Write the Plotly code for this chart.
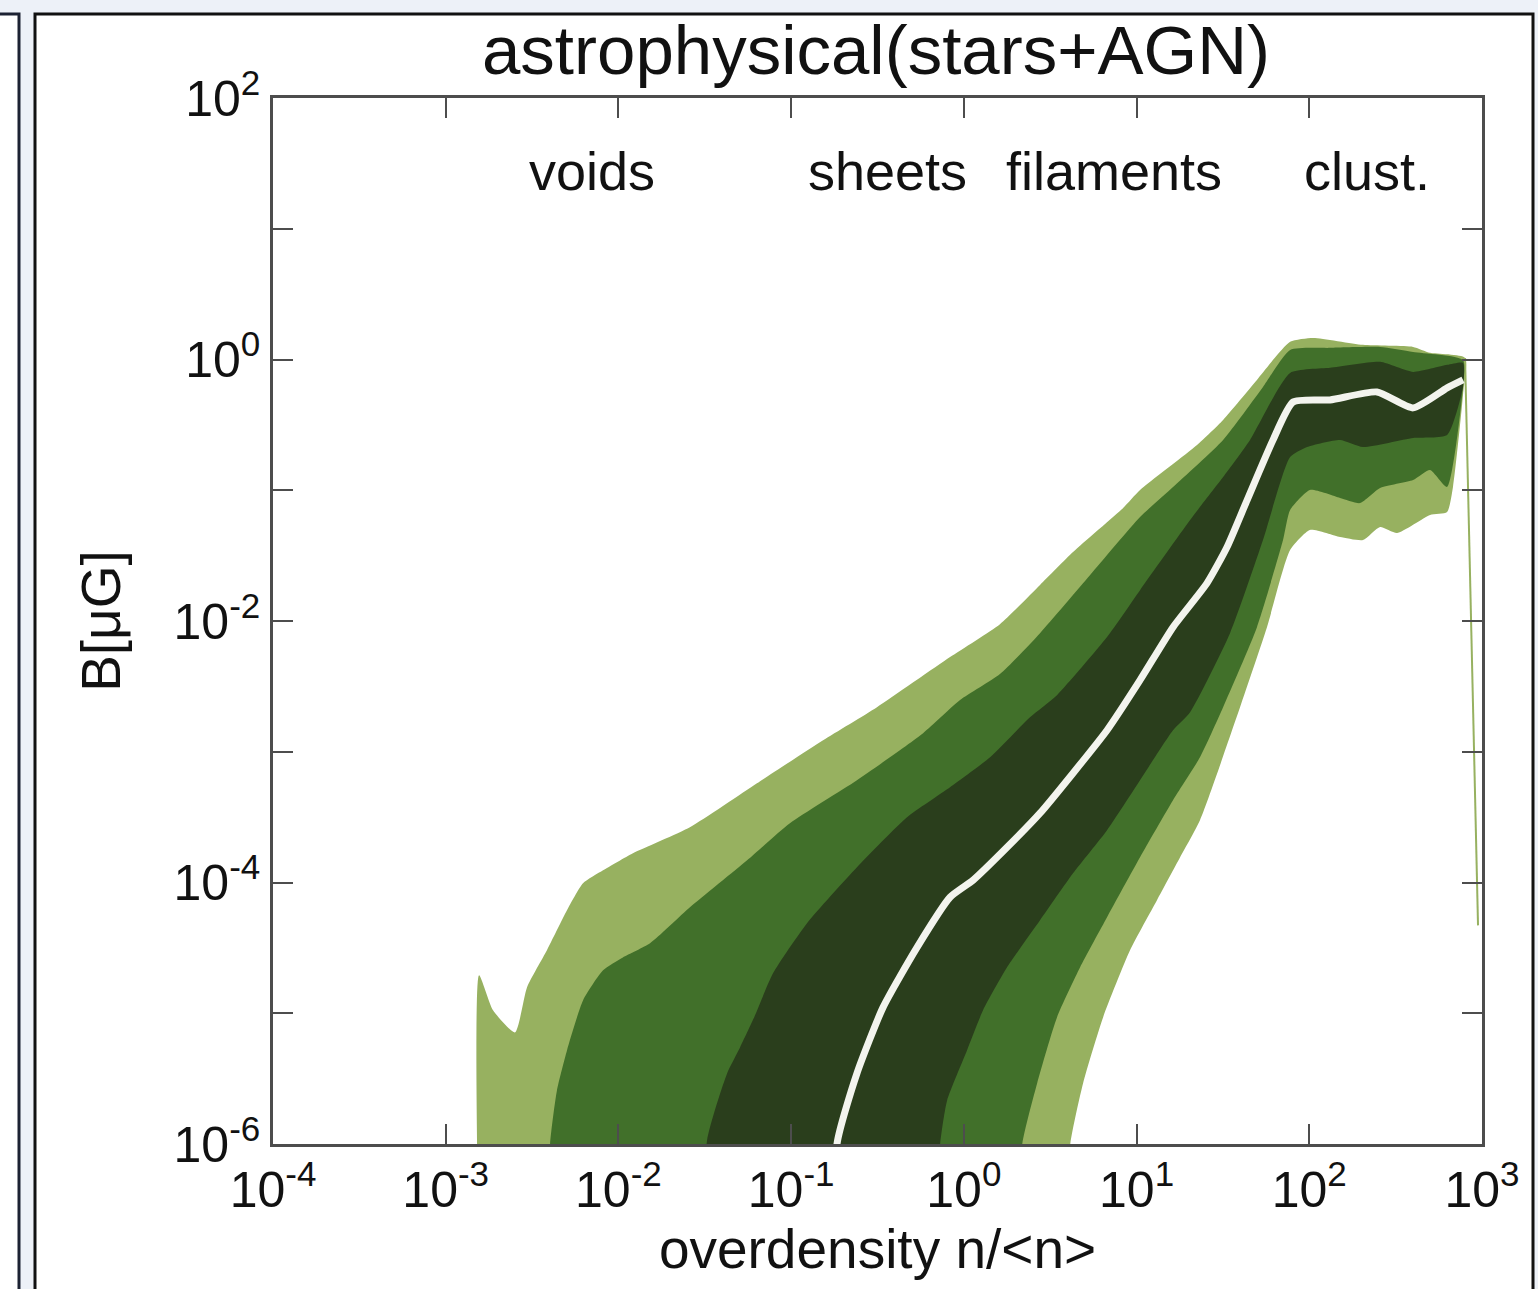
import plotly.graph_objects as go

# Magnetic field vs. overdensity: nested percentile bands and median,
# all stored as log10(n/<n>) and log10(B / muG).

# outer band (light green)
outer_up_logn = [-2.807, -2.807, -2.726, -2.599, -2.529, -2.414, -2.298, -2.205, -2.089, -1.916,
                 -1.586, -1.198, -0.815, -0.503, -0.080, 0.209, 0.441, 0.632, 0.922, 1.020,
                 1.350, 1.501, 1.697, 1.889, 2.022, 2.311, 2.601, 2.699, 2.902]
outer_up_logb = [-7.0, -4.710, -4.978, -5.147, -4.802, -4.519, -4.213, -4.006, -3.907, -3.776,
                 -3.577, -3.241, -2.912, -2.659, -2.276, -2.024, -1.725, -1.473, -1.136, -0.998,
                 -0.654, -0.462, -0.156, 0.135, 0.165, 0.112, 0.096, 0.051, 0.012]
outer_lo_logn = [0.580, 0.615, 0.690, 0.806, 0.962, 1.118, 1.252, 1.367, 1.599, 1.755,
                 1.889, 2.004, 2.178, 2.311, 2.410, 2.508, 2.699, 2.798, 2.832, 2.890, 2.977]
outer_lo_logb = [-7.0, -6.011, -5.537, -5.032, -4.519, -4.136, -3.807, -3.524, -2.659, -2.047,
                 -1.457, -1.304, -1.358, -1.381, -1.281, -1.327, -1.189, -1.166, -0.975, -0.271, -4.328]

# middle band (medium green)
mid_up_logn = [-2.408, -2.396, -2.356, -2.298, -2.205, -2.089, -1.974, -1.817, -1.586, -1.255,
               -1.007, -0.619, -0.236, -0.022, 0.209, 0.441, 0.731, 1.020, 1.211, 1.501,
               1.732, 1.889, 2.120, 2.410, 2.601, 2.890]
mid_up_logb = [-7.0, -6.004, -5.591, -5.284, -4.902, -4.672, -4.573, -4.465, -4.190, -3.830,
               -3.547, -3.218, -2.858, -2.605, -2.406, -2.093, -1.649, -1.205, -0.975, -0.615,
               -0.210, 0.073, 0.089, 0.096, 0.058, -0.003]
mid_lo_logn = [0.314, 0.337, 0.424, 0.539, 0.673, 0.829, 1.020, 1.211, 1.367, 1.501,
               1.697, 1.848, 1.889, 2.004, 2.178, 2.294, 2.410, 2.601, 2.699, 2.798, 2.890]
mid_lo_logb = [-7.0, -6.011, -5.537, -5.032, -4.649, -4.266, -3.807, -3.371, -3.042, -2.659,
               -2.047, -1.381, -1.151, -0.998, -1.059, -1.098, -0.983, -0.922, -0.845, -0.975, -0.210]

# inner band (dark green)
in_up_logn = [-1.499, -1.487, -1.371, -1.296, -1.209, -1.105, -0.908, -0.619, -0.329, -0.080,
              0.152, 0.383, 0.539, 0.829, 1.020, 1.310, 1.501, 1.657, 1.889, 2.120,
              2.410, 2.601, 2.798, 2.890]
in_up_logb = [-7.0, -5.973, -5.460, -5.261, -5.016, -4.695, -4.312, -3.884, -3.501, -3.271,
              -3.042, -2.736, -2.567, -2.123, -1.764, -1.228, -0.899, -0.615, -0.103, -0.064,
              -0.018, -0.095, -0.041, -0.026]
in_lo_logn = [-0.167, -0.138, -0.097, 0.018, 0.111, 0.250, 0.441, 0.632, 0.829, 1.020,
              1.211, 1.310, 1.541, 1.732, 1.889, 1.987, 2.178, 2.311, 2.601, 2.798, 2.890]
in_lo_logb = [-7.0, -6.011, -5.667, -5.284, -4.978, -4.649, -4.289, -3.930, -3.600, -3.218,
              -2.835, -2.697, -2.093, -1.381, -0.746, -0.669, -0.615, -0.669, -0.600, -0.577, -0.210]

# median
med_logn = [-0.740, -0.734, -0.619, -0.468, -0.271, -0.080, 0.053, 0.250, 0.441, 0.632,
            0.829, 1.020, 1.211, 1.408, 1.524, 1.640, 1.790, 1.906, 2.120, 2.392,
            2.601, 2.798, 2.890]
med_logb = [-7.0, -5.996, -5.460, -4.955, -4.496, -4.113, -3.983, -3.731, -3.470, -3.164,
            -2.835, -2.452, -2.047, -1.710, -1.434, -1.075, -0.615, -0.325, -0.309, -0.248,
            -0.370, -0.217, -0.156]

x_decades = [-4, -3, -2, -1, 0, 1, 2, 3]
y_labelled = [-6, -4, -2, 0, 2]
y_unlabelled = [-5, -3, -1, 1]

region_names = ["voids", "sheets", "filaments", "clust."]
region_logn = [-2.153, -0.445, 0.867, 2.337]

COL_OUTER = "#97b160"
COL_MID = "#41702a"
COL_INNER = "#2a3e1c"
COL_MED = "#f3f4ee"
AXIS_COL = "#4d4d4d"
FONT = "Liberation Sans, Arial, sans-serif"
SMOOTH = 0.55


def pw(vals):
    return [10 ** v for v in vals]


def band(up_x, up_y, lo_x, lo_y, color):
    xs = pw(up_x) + pw(lo_x[::-1])
    ys = pw(up_y) + pw(lo_y[::-1])
    return go.Scatter(x=xs, y=ys, mode="lines", fill="toself", fillcolor=color,
                      line=dict(width=0, color=color, shape="spline", smoothing=SMOOTH),
                      hoverinfo="skip", showlegend=False)


fig = go.Figure()
# the last lower point of the outer band is a narrow drop at the highest bin:
# it is drawn as a thin straight edge so the smoothing does not widen it
fig.add_trace(band(outer_up_logn, outer_up_logb, outer_lo_logn[:-1], outer_lo_logb[:-1], COL_OUTER))
fig.add_trace(go.Scatter(x=pw([outer_up_logn[-1], outer_lo_logn[-1]]),
                         y=pw([outer_up_logb[-1], outer_lo_logb[-1]]),
                         mode="lines", line=dict(color=COL_OUTER, width=2),
                         hoverinfo="skip", showlegend=False))
fig.add_trace(band(mid_up_logn, mid_up_logb, mid_lo_logn, mid_lo_logb, COL_MID))
fig.add_trace(band(in_up_logn, in_up_logb, in_lo_logn, in_lo_logb, COL_INNER))
fig.add_trace(go.Scatter(x=pw(med_logn), y=pw(med_logb), mode="lines",
                         line=dict(color=COL_MED, width=7, shape="spline", smoothing=SMOOTH),
                         hoverinfo="skip", showlegend=False))

axis_common = dict(
    type="log", showgrid=False, zeroline=False, showline=True, linewidth=2.5,
    linecolor=AXIS_COL, ticks="inside", ticklen=20, tickwidth=2, tickcolor=AXIS_COL,
    mirror="ticks", tickfont=dict(family=FONT, size=50, color="#111111"),
)

fig.update_xaxes(
    **axis_common,
    range=[-4, 3],
    tickvals=[10 ** d for d in x_decades],
    ticktext=[f"10<sup>{d}</sup>" for d in x_decades],
    title=dict(text="overdensity n/&lt;n&gt;", font=dict(family=FONT, size=55, color="#111111"),
               standoff=6),
)
fig.update_yaxes(
    **axis_common,
    range=[-6, 2],
    tickvals=[10 ** d for d in y_labelled],
    ticktext=[f"10<sup>{d}</sup>" for d in y_labelled],
    minor=dict(tickvals=[10 ** d for d in y_unlabelled], ticks="inside", ticklen=20,
               tickwidth=2, tickcolor=AXIS_COL, showgrid=False),
    title=dict(text="B[μG]", font=dict(family=FONT, size=55, color="#111111"), standoff=36),
)

for name, lx in zip(region_names, region_logn):
    fig.add_annotation(x=lx, y=1.44, xref="x", yref="y", text=name, showarrow=False,
                       font=dict(family=FONT, size=54, color="#111111"),
                       xanchor="center", yanchor="middle")

W, H = 1538, 1289
L, R, T, B = 273, 56, 98, 145


def px2paper(px, py):
    return (px - L) / (W - L - R), (H - B - py) / (H - T - B)


# page frames around the panel and the edge of the neighbouring panel
x0, y1 = px2paper(35, 14)
x1, y0 = px2paper(1533, 1300)
fig.add_shape(type="rect", xref="paper", yref="paper", layer="below",
              x0=x0, x1=x1, y0=y0, y1=y1, line=dict(color="#111111", width=3),
              fillcolor="white")
lx0, ly1 = px2paper(-10, 14)
lx1, ly0 = px2paper(19, 1300)
fig.add_shape(type="rect", xref="paper", yref="paper", layer="below",
              x0=lx0, x1=lx1, y0=ly0, y1=ly1, line=dict(color="#1c2233", width=3),
              fillcolor="white")

fig.update_layout(
    width=W, height=H, autosize=False,
    margin=dict(l=L, r=R, t=T, b=B),
    paper_bgcolor="#edf1f8", plot_bgcolor="white",
    title=dict(text="astrophysical(stars+AGN)", x=876 / W, xanchor="center",
               y=1 - 50 / H, yanchor="middle",
               font=dict(family=FONT, size=69, color="#111111")),
)

fig.write_html("out.html")
